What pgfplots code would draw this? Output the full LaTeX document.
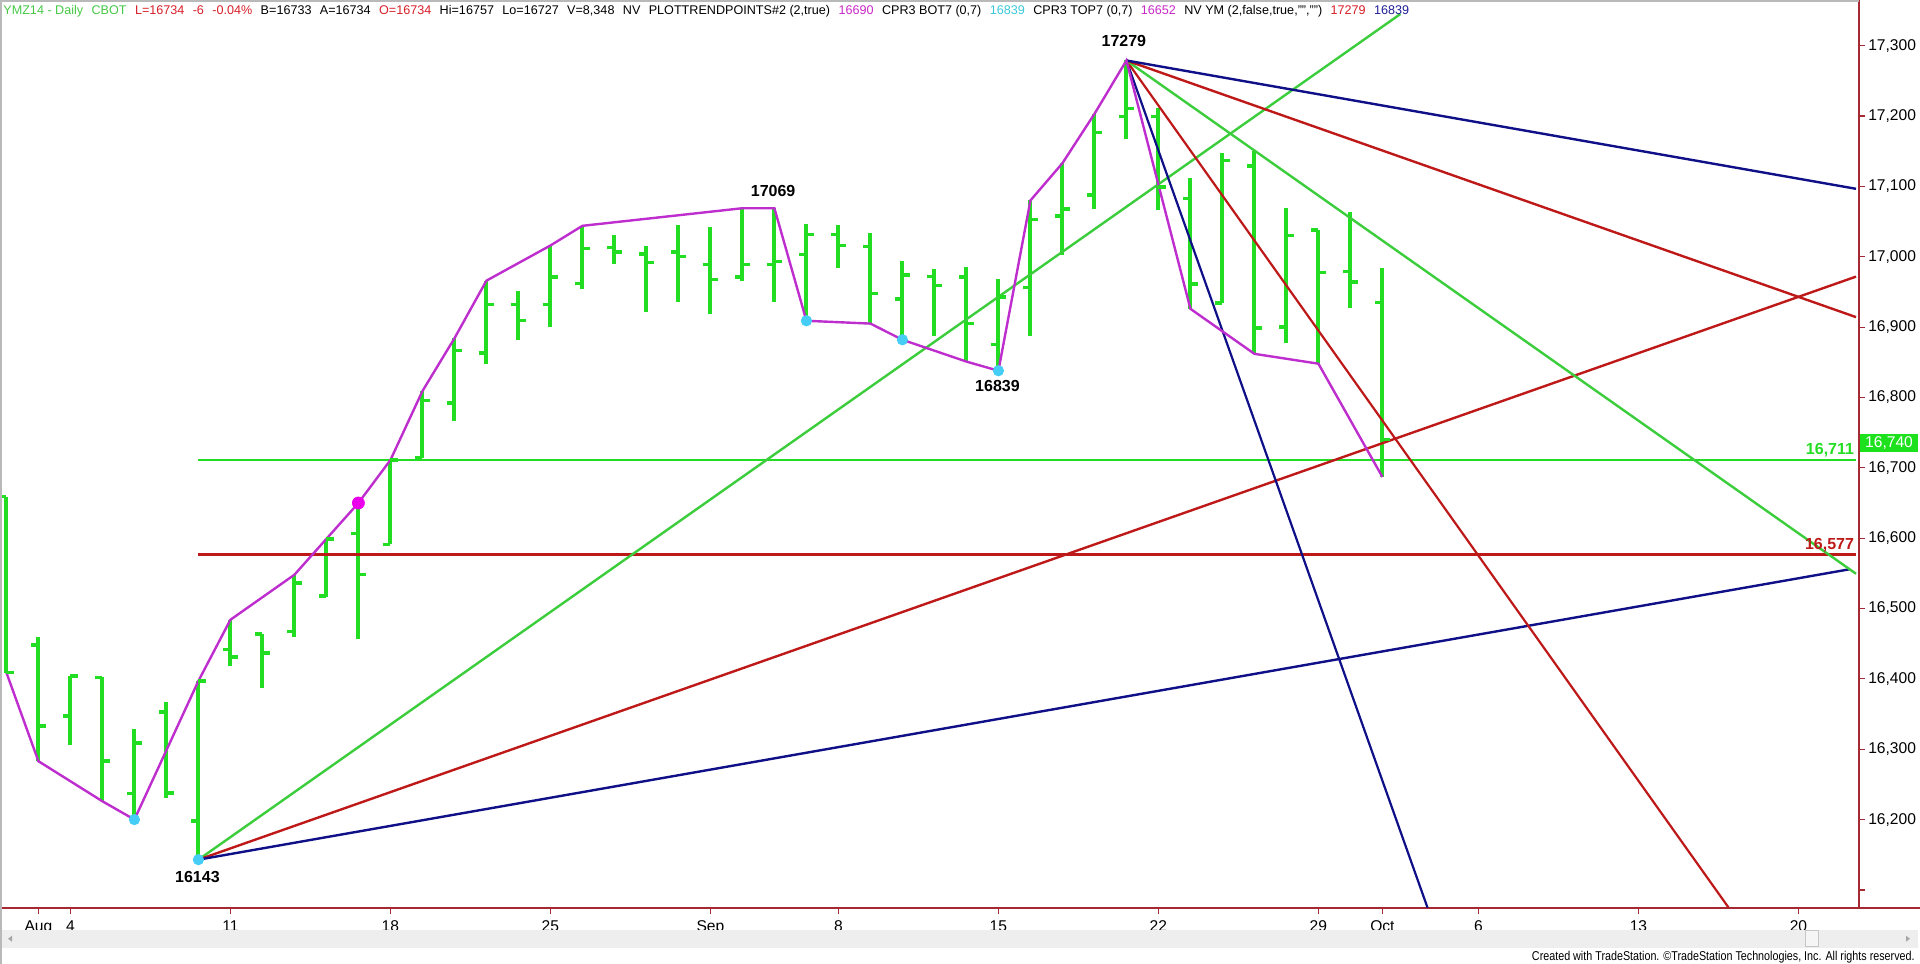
\documentclass[border=0pt]{standalone}
\usepackage{fontspec}
\setmainfont{Liberation Sans}
\newfontfamily\narrowfont[FakeStretch=0.84]{Liberation Sans}
\usepackage{pgfplots}
\usepackage{pgfplotstable}
\pgfplotsset{compat=1.18}

\definecolor{BarGreen}{RGB}{34,221,34}
\definecolor{FanGreen}{RGB}{60,205,60}
\definecolor{SwingMag}{RGB}{190,45,205}
\definecolor{DotMag}{RGB}{235,0,235}
\definecolor{DotCyan}{RGB}{70,205,245}
\definecolor{FanRed}{RGB}{190,25,25}
\definecolor{FanBlue}{RGB}{15,15,135}
\definecolor{AxisRed}{RGB}{165,40,50}
\definecolor{HdrGreen}{RGB}{70,200,70}
\definecolor{HdrRed}{RGB}{215,30,40}
\definecolor{HdrMag}{RGB}{200,40,200}
\definecolor{HdrCyan}{RGB}{60,200,220}
\definecolor{HdrBlue}{RGB}{30,30,150}
\definecolor{BoxGreen}{RGB}{30,225,30}

% open tick to the left, close tick to the right
\pgfdeclareplotmark{opentick}{%
  \pgfpathmoveto{\pgfqpoint{-3.6pt}{0pt}}\pgfpathlineto{\pgfqpoint{0pt}{0pt}}\pgfusepathqstroke}
\pgfdeclareplotmark{closetick}{%
  \pgfpathmoveto{\pgfqpoint{0pt}{0pt}}\pgfpathlineto{\pgfqpoint{3.6pt}{0pt}}\pgfusepathqstroke}

% daily bars, x = trading day (0 = Aug 1)
\pgfplotstableread{
i O H L C
-1 16659 16659 16409 16409
0 16448 16459 16283 16333
1 16347 16404 16306 16404
2 16402 16402 16226 16283
3 16237 16329 16200 16309
4 16353 16367 16231 16238
5 16198 16397 16143 16397
6 16442 16484 16419 16431
7 16464 16464 16387 16437
8 16467 16548 16459 16536
9 16518 16599 16517 16599
10 16607 16650 16457 16548
11 16591 16711 16591 16711
12 16714 16809 16714 16796
13 16792 16884 16767 16867
14 16863 16966 16847 16932
15 16932 16952 16881 16909
16 16932 17016 16900 16971
17 16962 17044 16954 17012
18 17013 17031 16990 17007
19 17004 17016 16921 16992
20 17007 17045 16936 17000
21 16989 17043 16918 16968
22 16971 17069 16965 16989
23 16989 17069 16936 16993
24 17003 17047 16909 17032
25 17032 17045 16984 17016
26 17015 17034 16905 16948
27 16940 16994 16882 16974
28 16972 16983 16887 16959
29 16971 16985 16851 16905
30 16875 16968 16838 16943
31 16956 17080 16888 17053
32 17058 17133 17003 17068
33 17088 17203 17068 17177
34 17199 17279 17167 17211
35 17199 17211 17066 17099
36 17083 17112 16926 16961
37 16934 17148 16934 17137
38 17129 17150 16862 16899
39 16900 17069 16877 17030
40 17038 17038 16848 16978
41 16979 17063 16927 16964
42 16935 16984 16687 16740
}\ohlc

\begin{document}
\begin{tikzpicture}
\begin{axis}[
  x=16pt, y=0.35175pt,
  xmin=-1.2, xmax=56.9, ymin=16074.7, ymax=17365,
  axis x line*=bottom, axis y line*=right,
  axis line style={AxisRed, line width=0.9pt},
  xtick={0,1,6,11,16,21,25,30,35,40,42,45,50,55},
  xticklabels={Aug,4,11,18,25,Sep,8,15,22,29,Oct,6,13,20},
  ytick={16100,16200,16300,16400,16500,16600,16700,16800,16900,17000,17100,17200,17300},
  yticklabels={{},{16,200},{16,300},{16,400},{16,500},{16,600},{16,700},{16,800},{16,900},{17,000},{17,100},{17,200},{17,300}},
  tick style={AxisRed, line width=0.6pt},
  major tick length=3pt, tick align=outside,
  ticklabel style={font=\fontsize{7.8}{9}\selectfont, text=black},
  yticklabel style={anchor=west, xshift=-2pt},
]
% bars: high-low with open tick, then close tick
\addplot[BarGreen, only marks, mark=opentick, mark options={line width=1.7pt},
  error bars/.cd, y dir=both, y explicit, error mark=none,
  error bar style={BarGreen, line width=2pt}]
  table[x=i, y=O, y error plus expr=\thisrow{H}-\thisrow{O},
        y error minus expr=\thisrow{O}-\thisrow{L}] {\ohlc};
\addplot[BarGreen, only marks, mark=closetick, mark options={line width=1.7pt}]
  table[x=i, y=C] {\ohlc};

% retracement levels
\addplot[BarGreen, line width=1.3pt] coordinates {(5,16711) (56.8,16711)};
\addplot[FanRed, line width=1.3pt] coordinates {(5,16577) (56.8,16577)};

% fan from the 16143 low
\addplot[FanGreen, line width=1.2pt] coordinates {(5,16143) (42.56,17345)};
\addplot[FanRed, line width=1.2pt] coordinates {(5,16143) (56.8,16971.8)};
\addplot[FanBlue, line width=1.2pt] coordinates {(5,16143) (56.6,16555.8)};
% fan from the 17279 high
\addplot[FanBlue, line width=1.1pt] coordinates {(34,17279) (43.41,16074.7)};
\addplot[FanRed, line width=1.1pt] coordinates {(34,17279) (52.82,16074.7)};
\addplot[FanGreen, line width=1.2pt] coordinates {(34,17279) (56.8,16549.4)};
\addplot[FanRed, line width=1.2pt] coordinates {(34,17279) (56.8,16914.2)};
\addplot[FanBlue, line width=1.2pt] coordinates {(34,17279) (56.8,17096.6)};

% swing line
\addplot[SwingMag, line width=1.2pt] coordinates {
  (-1,16409) (0,16283) (2,16226) (3,16200) (5,16397) (6,16484) (8,16548)
  (10,16650) (11,16711) (12,16809) (13,16884) (14,16966) (16,17016) (17,17044)
  (22,17069) (23,17069) (24,16909) (26,16905) (27,16882) (29,16851) (30,16838)
  (31,17080) (32,17133) (33,17203) (34,17279) (36,16926) (38,16862) (40,16848)
  (42,16687)};
\addplot[only marks, mark=*, mark size=2.6pt, DotCyan] coordinates {
  (3,16200) (5,16143) (24,16909) (27,16882) (30,16838)};
\addplot[only marks, mark=*, mark size=3pt, DotMag] coordinates {(10,16650)};

\begin{scope}[font=\bfseries\fontsize{8}{9}\selectfont, inner sep=0pt]
\node at (axis cs:4.97,16119) {16143};
\node at (axis cs:22.96,17094) {17069};
\node at (axis cs:29.97,16816) {16839};
\node at (axis cs:33.92,17307) {17279};
\node[anchor=base east, text=BarGreen] at (axis cs:56.75,16719) {16,711};
\node[anchor=base east, text=FanRed] at (axis cs:56.75,16584) {16,577};
\end{scope}
\end{axis}

% frame, price tag, scroll bar, header, credits
\draw[gray!55, line width=1pt] (0.5pt,-28pt) -- (0.5pt,453.4pt) -- (929.6pt,453.4pt);
\draw[AxisRed, line width=0.9pt] (929.6pt,0pt) -- (960pt,0pt);
\node[fill=BoxGreen, text=white, font=\fontsize{7.8}{9}\selectfont, inner sep=0pt,
  minimum width=29pt, minimum height=9pt] at (944.5pt,232.5pt) {16,740};
\fill[gray!13] (1pt,-11pt) rectangle (959pt,-20pt);
\draw[gray!45, fill=gray!8] (902.5pt,-11.5pt) rectangle (909pt,-19.5pt);
\fill[gray!70] (4pt,-15.5pt) -- (6pt,-14pt) -- (6pt,-17pt) -- cycle;
\fill[gray!70] (955pt,-15.5pt) -- (953pt,-14pt) -- (953pt,-17pt) -- cycle;
\node[anchor=base west, inner sep=0pt, font=\fontsize{6.3}{7}\selectfont]
  at (1.5pt,446.5pt) {%
  \def\g{\hspace{4.2pt}}%
  \textcolor{HdrGreen}{YMZ14 - Daily\g CBOT}\g
  \textcolor{HdrRed}{L=16734\g -6\g -0.04\%}\g
  B=16733\g A=16734\g \textcolor{HdrRed}{O=16734}\g
  Hi=16757\g Lo=16727\g V=8,348\g NV\g PLOTTRENDPOINTS\#2 (2,true)\g
  \textcolor{HdrMag}{16690}\g CPR3 BOT7 (0,7)\g \textcolor{HdrCyan}{16839}\g
  CPR3 TOP7 (0,7)\g \textcolor{HdrMag}{16652}\g NV YM (2,false,true,"","")\g
  \textcolor{HdrRed}{17279}\g \textcolor{HdrBlue}{16839}};
\node[anchor=base east, inner sep=0pt, font=\narrowfont\fontsize{6.4}{7}\selectfont]
  at (957.5pt,-26.5pt) {Created with TradeStation. ©TradeStation Technologies, Inc. All rights reserved.};
\pgfresetboundingbox
\path[use as bounding box] (0pt,-28pt) rectangle (960pt,453.86pt);
\end{tikzpicture}
\end{document}
